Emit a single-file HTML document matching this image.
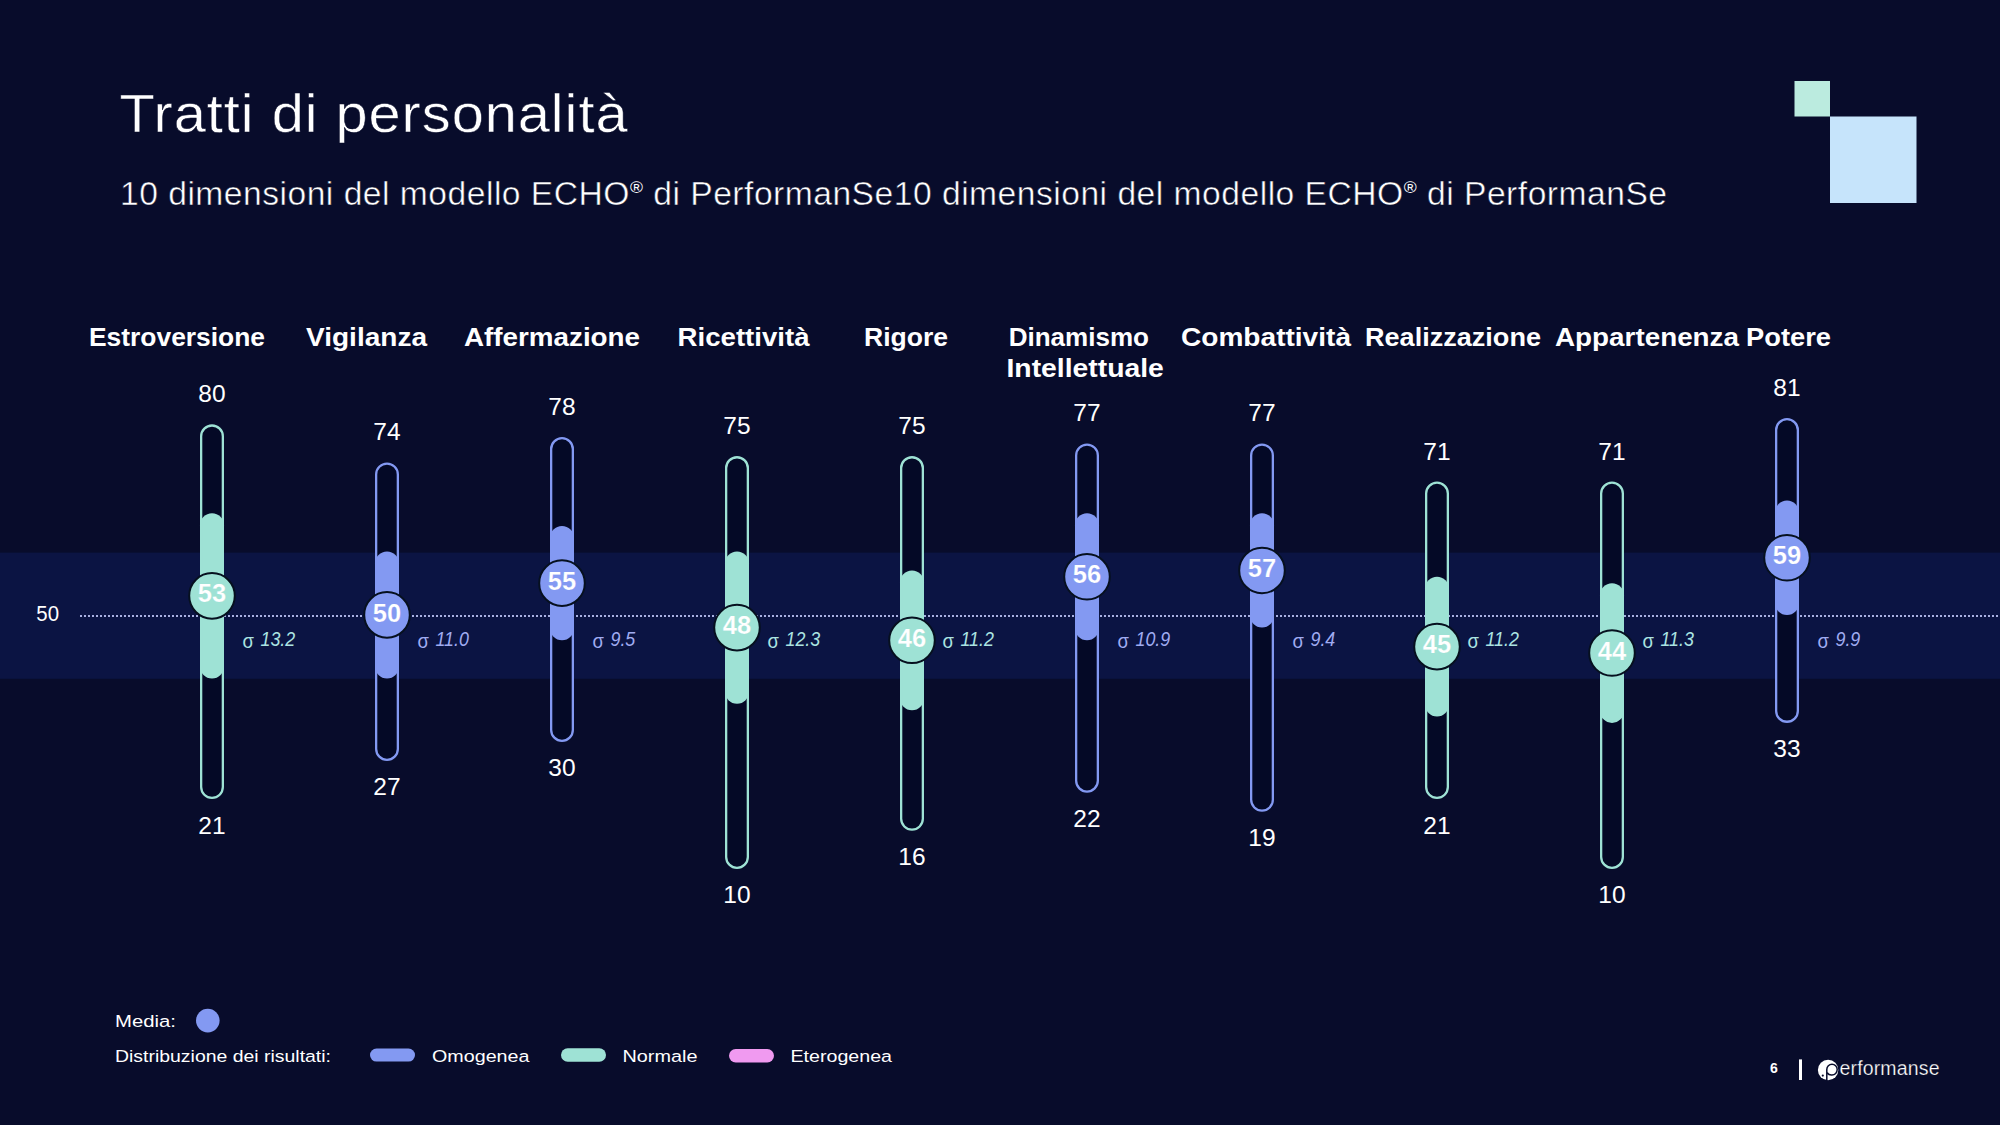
<!DOCTYPE html><html><head><meta charset="utf-8"><style>html,body{margin:0;padding:0;background:#080c2b;}svg{display:block;}text{font-family:"Liberation Sans", sans-serif;}</style></head><body>
<svg width="2000" height="1125" viewBox="0 0 2000 1125">
<rect x="0" y="0" width="2000" height="1125" fill="#080c2b"/>
<rect x="0" y="552.6" width="2000" height="126.2" fill="#0b1443"/>
<text transform="translate(119.5 131.8) scale(1.07 1)" x="0" y="0" font-size="54" fill="#ffffff" stroke="#080c2b" stroke-width="0.5" textLength="474.8" lengthAdjust="spacing">Tratti di personalità</text>
<text transform="translate(120 205) scale(1.035 1)" x="0" y="0" font-size="32.5" fill="#ffffff" stroke="#080c2b" stroke-width="0.5" textLength="1494.7" lengthAdjust="spacing">10 dimensioni del modello ECHO<tspan font-size="17" dy="-12" stroke="none">®</tspan><tspan dy="12"> di PerformanSe10 dimensioni del modello ECHO</tspan><tspan font-size="17" dy="-12" stroke="none">®</tspan><tspan dy="12"> di PerformanSe</tspan></text>
<rect x="1794.5" y="81" width="35.5" height="35.5" fill="#bbebdf"/>
<rect x="1830" y="116.5" width="86.5" height="86.5" fill="#c6e4fb"/>
<text x="89.0" y="345.5" font-size="26.5" font-weight="bold" fill="#ffffff" textLength="176.0" lengthAdjust="spacingAndGlyphs">Estroversione</text>
<text x="306.0" y="345.5" font-size="26.5" font-weight="bold" fill="#ffffff" textLength="121.0" lengthAdjust="spacingAndGlyphs">Vigilanza</text>
<text x="464.0" y="345.5" font-size="26.5" font-weight="bold" fill="#ffffff" textLength="176.0" lengthAdjust="spacingAndGlyphs">Affermazione</text>
<text x="677.5" y="345.5" font-size="26.5" font-weight="bold" fill="#ffffff" textLength="132.1" lengthAdjust="spacingAndGlyphs">Ricettività</text>
<text x="864.0" y="345.5" font-size="26.5" font-weight="bold" fill="#ffffff" textLength="84.0" lengthAdjust="spacingAndGlyphs">Rigore</text>
<text x="1008.7" y="345.5" font-size="26.5" font-weight="bold" fill="#ffffff" textLength="140.3" lengthAdjust="spacingAndGlyphs">Dinamismo</text>
<text x="1181.0" y="345.5" font-size="26.5" font-weight="bold" fill="#ffffff" textLength="170.0" lengthAdjust="spacingAndGlyphs">Combattività</text>
<text x="1365.0" y="345.5" font-size="26.5" font-weight="bold" fill="#ffffff" textLength="176.0" lengthAdjust="spacingAndGlyphs">Realizzazione</text>
<text x="1555.0" y="345.5" font-size="26.5" font-weight="bold" fill="#ffffff" textLength="184.0" lengthAdjust="spacingAndGlyphs">Appartenenza</text>
<text x="1746.0" y="345.5" font-size="26.5" font-weight="bold" fill="#ffffff" textLength="85.0" lengthAdjust="spacingAndGlyphs">Potere</text>
<text x="1006.5" y="377.3" font-size="26.5" font-weight="bold" fill="#ffffff" textLength="157.3" lengthAdjust="spacingAndGlyphs">Intellettuale</text>
<text x="36.3" y="620.8" font-size="21.5" fill="#ffffff" textLength="22.7" lengthAdjust="spacingAndGlyphs">50</text>
<line x1="80" y1="616" x2="2000" y2="616" stroke="#a8b0e0" stroke-width="2" stroke-dasharray="2 2"/>
<rect x="200.0" y="424.34" width="24" height="374.77" rx="12" ry="12" fill="#040926"/>
<rect x="200.0" y="513.27" width="24" height="165.15" rx="12" ry="12" fill="#9ee2d5"/>
<rect x="201.15" y="425.49" width="21.70" height="372.47" rx="10.85" ry="10.85" fill="none" stroke="#9ee2d5" stroke-width="2.30"/>
<text x="212" y="402.34" font-size="24.5" fill="#ffffff" text-anchor="middle">80</text>
<text x="212" y="833.51" font-size="24.5" fill="#ffffff" text-anchor="middle">21</text>
<circle cx="212" cy="595.84" r="22.8" fill="#9ee2d5" stroke="#06101f" stroke-width="2"/>
<text x="212" y="602.44" font-size="25.5" font-weight="bold" fill="#ffffff" stroke="#9ee2d5" stroke-width="0.2" text-anchor="middle">53</text>
<text x="242.6" y="647.8" font-size="20" fill="#ace4e2" textLength="11.4" lengthAdjust="spacingAndGlyphs">σ</text>
<text x="260.5" y="646.4" font-size="21" fill="#ace4e2" font-style="italic" textLength="34.7" lengthAdjust="spacingAndGlyphs">13.2</text>
<rect x="375.0" y="462.45" width="24" height="298.54" rx="12" ry="12" fill="#040926"/>
<rect x="375.0" y="551.38" width="24" height="127.04" rx="12" ry="12" fill="#8399f2"/>
<rect x="376.15" y="463.60" width="21.70" height="296.24" rx="10.85" ry="10.85" fill="none" stroke="#8399f2" stroke-width="2.30"/>
<text x="387" y="440.45" font-size="24.5" fill="#ffffff" text-anchor="middle">74</text>
<text x="387" y="795.40" font-size="24.5" fill="#ffffff" text-anchor="middle">27</text>
<circle cx="387" cy="614.90" r="22.8" fill="#8399f2" stroke="#06101f" stroke-width="2"/>
<text x="387" y="621.50" font-size="25.5" font-weight="bold" fill="#ffffff" stroke="#8399f2" stroke-width="0.2" text-anchor="middle">50</text>
<text x="417.6" y="647.8" font-size="20" fill="#a0acf2" textLength="11.4" lengthAdjust="spacingAndGlyphs">σ</text>
<text x="435.5" y="646.4" font-size="21" fill="#a0acf2" font-style="italic" textLength="33.4" lengthAdjust="spacingAndGlyphs">11.0</text>
<rect x="550.0" y="437.04" width="24" height="304.90" rx="12" ry="12" fill="#040926"/>
<rect x="550.0" y="525.97" width="24" height="114.34" rx="12" ry="12" fill="#8399f2"/>
<rect x="551.15" y="438.19" width="21.70" height="302.60" rx="10.85" ry="10.85" fill="none" stroke="#8399f2" stroke-width="2.30"/>
<text x="562" y="415.04" font-size="24.5" fill="#ffffff" text-anchor="middle">78</text>
<text x="562" y="776.34" font-size="24.5" fill="#ffffff" text-anchor="middle">30</text>
<circle cx="562" cy="583.14" r="22.8" fill="#8399f2" stroke="#06101f" stroke-width="2"/>
<text x="562" y="589.74" font-size="25.5" font-weight="bold" fill="#ffffff" stroke="#8399f2" stroke-width="0.2" text-anchor="middle">55</text>
<text x="592.6" y="647.8" font-size="20" fill="#a0acf2" textLength="11.4" lengthAdjust="spacingAndGlyphs">σ</text>
<text x="610.5" y="646.4" font-size="21" fill="#a0acf2" font-style="italic" textLength="24.8" lengthAdjust="spacingAndGlyphs">9.5</text>
<rect x="725.0" y="456.10" width="24" height="412.88" rx="12" ry="12" fill="#040926"/>
<rect x="725.0" y="551.38" width="24" height="152.45" rx="12" ry="12" fill="#9ee2d5"/>
<rect x="726.15" y="457.25" width="21.70" height="410.58" rx="10.85" ry="10.85" fill="none" stroke="#9ee2d5" stroke-width="2.30"/>
<text x="737" y="434.10" font-size="24.5" fill="#ffffff" text-anchor="middle">75</text>
<text x="737" y="903.38" font-size="24.5" fill="#ffffff" text-anchor="middle">10</text>
<circle cx="737" cy="627.60" r="22.8" fill="#9ee2d5" stroke="#06101f" stroke-width="2"/>
<text x="737" y="634.20" font-size="25.5" font-weight="bold" fill="#ffffff" stroke="#9ee2d5" stroke-width="0.2" text-anchor="middle">48</text>
<text x="767.6" y="647.8" font-size="20" fill="#ace4e2" textLength="11.4" lengthAdjust="spacingAndGlyphs">σ</text>
<text x="785.5" y="646.4" font-size="21" fill="#ace4e2" font-style="italic" textLength="34.7" lengthAdjust="spacingAndGlyphs">12.3</text>
<rect x="900.0" y="456.10" width="24" height="374.77" rx="12" ry="12" fill="#040926"/>
<rect x="900.0" y="570.44" width="24" height="139.74" rx="12" ry="12" fill="#9ee2d5"/>
<rect x="901.15" y="457.25" width="21.70" height="372.47" rx="10.85" ry="10.85" fill="none" stroke="#9ee2d5" stroke-width="2.30"/>
<text x="912" y="434.10" font-size="24.5" fill="#ffffff" text-anchor="middle">75</text>
<text x="912" y="865.27" font-size="24.5" fill="#ffffff" text-anchor="middle">16</text>
<circle cx="912" cy="640.31" r="22.8" fill="#9ee2d5" stroke="#06101f" stroke-width="2"/>
<text x="912" y="646.91" font-size="25.5" font-weight="bold" fill="#ffffff" stroke="#9ee2d5" stroke-width="0.2" text-anchor="middle">46</text>
<text x="942.6" y="647.8" font-size="20" fill="#ace4e2" textLength="11.4" lengthAdjust="spacingAndGlyphs">σ</text>
<text x="960.5" y="646.4" font-size="21" fill="#ace4e2" font-style="italic" textLength="33.4" lengthAdjust="spacingAndGlyphs">11.2</text>
<rect x="1075.0" y="443.40" width="24" height="349.36" rx="12" ry="12" fill="#040926"/>
<rect x="1075.0" y="513.27" width="24" height="127.04" rx="12" ry="12" fill="#8399f2"/>
<rect x="1076.15" y="444.55" width="21.70" height="347.06" rx="10.85" ry="10.85" fill="none" stroke="#8399f2" stroke-width="2.30"/>
<text x="1087" y="421.40" font-size="24.5" fill="#ffffff" text-anchor="middle">77</text>
<text x="1087" y="827.16" font-size="24.5" fill="#ffffff" text-anchor="middle">22</text>
<circle cx="1087" cy="576.79" r="22.8" fill="#8399f2" stroke="#06101f" stroke-width="2"/>
<text x="1087" y="583.39" font-size="25.5" font-weight="bold" fill="#ffffff" stroke="#8399f2" stroke-width="0.2" text-anchor="middle">56</text>
<text x="1117.6" y="647.8" font-size="20" fill="#a0acf2" textLength="11.4" lengthAdjust="spacingAndGlyphs">σ</text>
<text x="1135.5" y="646.4" font-size="21" fill="#a0acf2" font-style="italic" textLength="34.7" lengthAdjust="spacingAndGlyphs">10.9</text>
<rect x="1250.0" y="443.40" width="24" height="368.42" rx="12" ry="12" fill="#040926"/>
<rect x="1250.0" y="513.27" width="24" height="114.34" rx="12" ry="12" fill="#8399f2"/>
<rect x="1251.15" y="444.55" width="21.70" height="366.12" rx="10.85" ry="10.85" fill="none" stroke="#8399f2" stroke-width="2.30"/>
<text x="1262" y="421.40" font-size="24.5" fill="#ffffff" text-anchor="middle">77</text>
<text x="1262" y="846.21" font-size="24.5" fill="#ffffff" text-anchor="middle">19</text>
<circle cx="1262" cy="570.44" r="22.8" fill="#8399f2" stroke="#06101f" stroke-width="2"/>
<text x="1262" y="577.04" font-size="25.5" font-weight="bold" fill="#ffffff" stroke="#8399f2" stroke-width="0.2" text-anchor="middle">57</text>
<text x="1292.6" y="647.8" font-size="20" fill="#a0acf2" textLength="11.4" lengthAdjust="spacingAndGlyphs">σ</text>
<text x="1310.5" y="646.4" font-size="21" fill="#a0acf2" font-style="italic" textLength="24.8" lengthAdjust="spacingAndGlyphs">9.4</text>
<rect x="1425.0" y="481.51" width="24" height="317.60" rx="12" ry="12" fill="#040926"/>
<rect x="1425.0" y="576.79" width="24" height="139.74" rx="12" ry="12" fill="#9ee2d5"/>
<rect x="1426.15" y="482.66" width="21.70" height="315.30" rx="10.85" ry="10.85" fill="none" stroke="#9ee2d5" stroke-width="2.30"/>
<text x="1437" y="459.51" font-size="24.5" fill="#ffffff" text-anchor="middle">71</text>
<text x="1437" y="833.51" font-size="24.5" fill="#ffffff" text-anchor="middle">21</text>
<circle cx="1437" cy="646.66" r="22.8" fill="#9ee2d5" stroke="#06101f" stroke-width="2"/>
<text x="1437" y="653.26" font-size="25.5" font-weight="bold" fill="#ffffff" stroke="#9ee2d5" stroke-width="0.2" text-anchor="middle">45</text>
<text x="1467.6" y="647.8" font-size="20" fill="#ace4e2" textLength="11.4" lengthAdjust="spacingAndGlyphs">σ</text>
<text x="1485.5" y="646.4" font-size="21" fill="#ace4e2" font-style="italic" textLength="33.4" lengthAdjust="spacingAndGlyphs">11.2</text>
<rect x="1600.0" y="481.51" width="24" height="387.47" rx="12" ry="12" fill="#040926"/>
<rect x="1600.0" y="583.14" width="24" height="139.74" rx="12" ry="12" fill="#9ee2d5"/>
<rect x="1601.15" y="482.66" width="21.70" height="385.17" rx="10.85" ry="10.85" fill="none" stroke="#9ee2d5" stroke-width="2.30"/>
<text x="1612" y="459.51" font-size="24.5" fill="#ffffff" text-anchor="middle">71</text>
<text x="1612" y="903.38" font-size="24.5" fill="#ffffff" text-anchor="middle">10</text>
<circle cx="1612" cy="653.01" r="22.8" fill="#9ee2d5" stroke="#06101f" stroke-width="2"/>
<text x="1612" y="659.61" font-size="25.5" font-weight="bold" fill="#ffffff" stroke="#9ee2d5" stroke-width="0.2" text-anchor="middle">44</text>
<text x="1642.6" y="647.8" font-size="20" fill="#ace4e2" textLength="11.4" lengthAdjust="spacingAndGlyphs">σ</text>
<text x="1660.5" y="646.4" font-size="21" fill="#ace4e2" font-style="italic" textLength="33.4" lengthAdjust="spacingAndGlyphs">11.3</text>
<rect x="1775.0" y="417.99" width="24" height="304.90" rx="12" ry="12" fill="#040926"/>
<rect x="1775.0" y="500.56" width="24" height="114.34" rx="12" ry="12" fill="#8399f2"/>
<rect x="1776.15" y="419.14" width="21.70" height="302.60" rx="10.85" ry="10.85" fill="none" stroke="#8399f2" stroke-width="2.30"/>
<text x="1787" y="395.99" font-size="24.5" fill="#ffffff" text-anchor="middle">81</text>
<text x="1787" y="757.28" font-size="24.5" fill="#ffffff" text-anchor="middle">33</text>
<circle cx="1787" cy="557.73" r="22.8" fill="#8399f2" stroke="#06101f" stroke-width="2"/>
<text x="1787" y="564.33" font-size="25.5" font-weight="bold" fill="#ffffff" stroke="#8399f2" stroke-width="0.2" text-anchor="middle">59</text>
<text x="1817.6" y="647.8" font-size="20" fill="#a0acf2" textLength="11.4" lengthAdjust="spacingAndGlyphs">σ</text>
<text x="1835.5" y="646.4" font-size="21" fill="#a0acf2" font-style="italic" textLength="24.8" lengthAdjust="spacingAndGlyphs">9.9</text>
<text x="115" y="1027" font-size="17.3" fill="#ffffff" textLength="61" lengthAdjust="spacingAndGlyphs">Media:</text>
<circle cx="207.8" cy="1020.6" r="11.8" fill="#8399f2"/>
<text x="115" y="1062" font-size="17.3" fill="#ffffff" textLength="216" lengthAdjust="spacingAndGlyphs">Distribuzione dei risultati:</text>
<rect x="370" y="1048.6" width="45" height="13" rx="6.5" fill="#8399f2"/>
<text x="432" y="1062" font-size="17.3" fill="#ffffff" textLength="97.5" lengthAdjust="spacingAndGlyphs">Omogenea</text>
<rect x="561" y="1048.3" width="45" height="13.4" rx="6.7" fill="#9ee2d5"/>
<text x="622.5" y="1062" font-size="17.3" fill="#ffffff" textLength="75" lengthAdjust="spacingAndGlyphs">Normale</text>
<rect x="729" y="1049" width="45" height="13.5" rx="6.7" fill="#f09af0"/>
<text x="790.5" y="1062" font-size="17.3" fill="#ffffff" textLength="101.5" lengthAdjust="spacingAndGlyphs">Eterogenea</text>
<text x="1770" y="1072.6" font-size="14.5" font-weight="bold" fill="#ffffff" textLength="7.8" lengthAdjust="spacingAndGlyphs">6</text>
<rect x="1799" y="1059.4" width="3" height="20.6" fill="#ffffff"/>
<circle cx="1828.1" cy="1070" r="10.2" fill="#ffffff"/>
<path d="M1826.8 1080.2 V1069.6 A5.2 5.4 0 1 1 1832 1075 A5.2 5.2 0 0 1 1827.2 1072.8" fill="none" stroke="#080c2b" stroke-width="1.5"/>
<circle cx="1822.8" cy="1075.6" r="1.1" fill="#080c2b"/>
<text x="1839.5" y="1075" font-size="19.5" fill="#ffffff" stroke="#080c2b" stroke-width="0.25" textLength="100" lengthAdjust="spacing">erformanse</text>
</svg></body></html>
